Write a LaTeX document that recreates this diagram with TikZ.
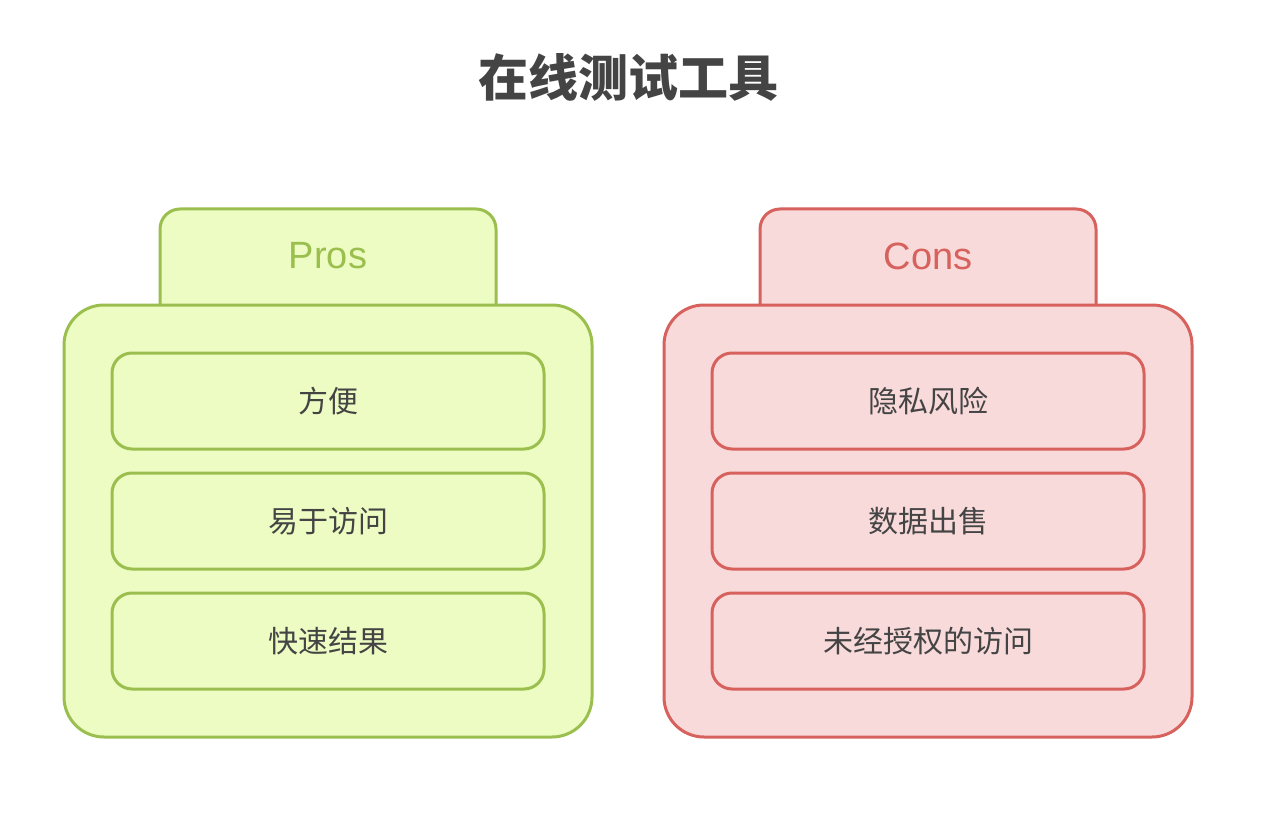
\documentclass[tikz,border=0pt]{standalone}
\usepackage{fontspec}
\setmainfont{Noto Sans CJK SC}
\newfontfamily\cjk{Noto Sans CJK SC}
\newfontfamily\latinsans{Liberation Sans}
\definecolor{gfill}{HTML}{EDFCC2}
\definecolor{gline}{HTML}{9BBF4F}
\definecolor{rfill}{HTML}{F9DADA}
\definecolor{rline}{HTML}{D6615D}
\definecolor{txt}{HTML}{444444}
\begin{document}
\begin{tikzpicture}[x=1pt,y=-1pt,
  tabbox/.style={draw, line width=3pt, rounded corners=20pt},
  mainbox/.style={draw, line width=3pt, rounded corners=40pt},
  itembox/.style={draw, line width=3pt, rounded corners=20pt, minimum width=432pt, minimum height=96pt, inner sep=0pt, font=\cjk\fontsize{30}{36}\selectfont},
  tablabel/.style={font=\latinsans\fontsize{38}{44}\selectfont},
  pros/.style={draw=gline, fill=gfill},
  cons/.style={draw=rline, fill=rfill},
]
\useasboundingbox (0,0) rectangle (1262,840);
\node[font=\cjk\bfseries\fontsize{50}{58}\selectfont, text=txt] (title) at (628,77) {在线测试工具};
% Pros
\draw[tabbox, pros] (160,330) -- (160,209) -- (496,209) -- (496,330);
\node[tablabel, text=gline] (prostab) at (328,256) {Pros};
\draw[mainbox, pros] (64,305) rectangle (592,737);
\node[itembox, pros, text=txt] (p1) at (328,401) {方便};
\node[itembox, pros, text=txt] (p2) at (328,521) {易于访问};
\node[itembox, pros, text=txt] (p3) at (328,641) {快速结果};
% Cons
\draw[tabbox, cons] (760,330) -- (760,209) -- (1096,209) -- (1096,330);
\node[tablabel, text=rline] (constab) at (928,256) {Cons};
\draw[mainbox, cons] (664,305) rectangle (1192,737);
\node[itembox, cons, text=txt] (c1) at (928,401) {隐私风险};
\node[itembox, cons, text=txt] (c2) at (928,521) {数据出售};
\node[itembox, cons, text=txt] (c3) at (928,641) {未经授权的访问};
\end{tikzpicture}
\end{document}
